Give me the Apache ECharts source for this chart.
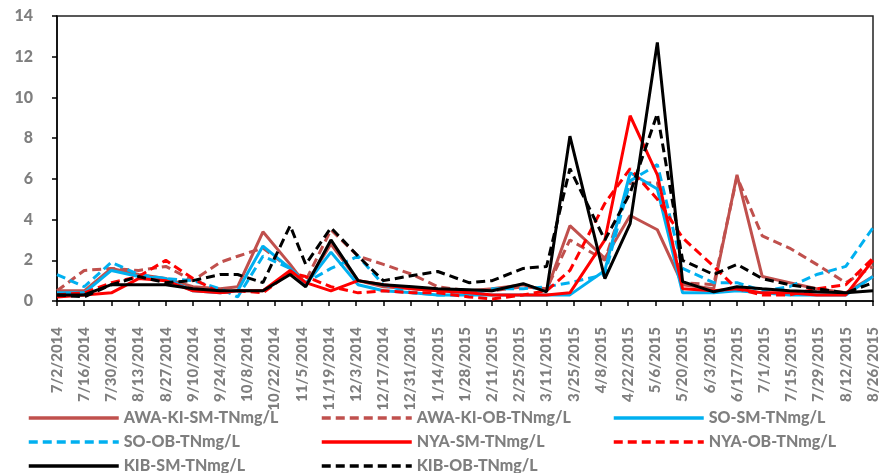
<!DOCTYPE html>
<html>
<head>
<meta charset="utf-8">
<script src="https://cdn.jsdelivr.net/npm/echarts@6/dist/echarts.min.js"></script>
<style>
  html, body { margin: 0; padding: 0; background: #fff; }
  #chart { width: 887px; height: 473px; }
</style>
</head>
<body>
<div id="chart"></div>
<script>
// Sampling dates (M/D/YYYY reading of the x axis)
const startDate = '2014-07-02';
const sampleDates = [
  '2014-07-02','2014-07-16','2014-07-30','2014-08-13','2014-08-27','2014-09-10',
  '2014-09-24','2014-10-03','2014-10-16','2014-10-30','2014-11-07','2014-11-20',
  '2014-12-04','2014-12-17','2015-01-01','2015-01-14','2015-01-30','2015-02-11',
  '2015-02-27','2015-03-11','2015-03-23','2015-04-10','2015-04-23','2015-05-07',
  '2015-05-20','2015-06-05','2015-06-17','2015-06-30','2015-07-14','2015-07-28',
  '2015-08-12','2015-08-26'
];

// Total nitrogen, mg/L
const awaKiSm = [0.5,0.5,1.6,1.3,1.1,0.7,0.6,0.7,3.4,1.8,0.8,2.8,1.0,0.7,0.6,0.5,0.5,0.6,0.8,0.5,3.7,2.1,4.2,3.5,0.8,0.6,6.2,1.2,0.9,0.6,0.4,1.2];
const awaKiOb = [0.5,1.5,1.6,1.5,1.7,1.0,1.9,2.2,2.6,1.6,1.0,3.5,2.2,1.8,1.3,0.7,0.5,0.5,0.7,0.6,3.0,2.0,5.8,5.8,0.9,0.8,6.1,3.2,2.6,1.8,0.9,1.7];
const soSm    = [0.4,0.4,1.5,1.2,1.1,0.5,0.4,0.5,2.7,1.6,0.8,2.4,0.8,0.5,0.4,0.3,0.3,0.3,0.3,0.3,0.3,1.5,6.3,5.5,0.4,0.4,0.5,0.4,0.3,0.3,0.3,1.2];
const soOb    = [1.3,0.7,1.9,1.3,1.1,1.0,0.6,0.2,2.2,1.6,0.9,1.6,2.2,0.8,0.4,0.3,0.3,0.6,0.6,0.7,0.9,1.3,5.9,6.7,1.6,0.9,0.9,0.5,0.7,1.3,1.7,3.6];
const nyaSm   = [0.2,0.3,0.4,1.1,1.0,0.5,0.4,0.5,0.5,1.5,0.9,0.5,1.0,0.8,0.6,0.5,0.4,0.3,0.3,0.3,0.4,3.0,9.1,6.2,0.6,0.5,0.6,0.4,0.4,0.3,0.3,2.0];
const nyaOb   = [0.3,0.4,0.9,1.2,2.0,1.1,0.4,0.5,0.4,1.4,1.2,0.7,0.4,0.5,0.4,0.4,0.2,0.1,0.3,0.5,1.5,4.8,6.5,5.0,3.1,1.7,0.6,0.3,0.3,0.6,0.8,2.1];
const kibSm   = [0.3,0.3,0.8,0.8,0.8,0.6,0.5,0.5,0.5,1.3,0.7,3.0,1.0,0.8,0.7,0.6,0.55,0.5,0.85,0.45,8.1,1.1,3.8,12.7,0.95,0.45,0.7,0.6,0.5,0.45,0.4,0.5];
const kibOb   = [0.3,0.2,0.8,1.2,0.9,1.0,1.3,1.3,0.9,3.7,1.8,3.6,2.2,1.0,1.25,1.45,0.9,1.0,1.6,1.7,6.5,3.0,5.3,9.2,2.0,1.3,1.8,1.1,0.8,0.6,0.4,0.9];

const seriesNames = [
  'AWA-KI-SM-TNmg/L','AWA-KI-OB-TNmg/L','SO-SM-TNmg/L','SO-OB-TNmg/L',
  'NYA-SM-TNmg/L','NYA-OB-TNmg/L','KIB-SM-TNmg/L','KIB-OB-TNmg/L'
];
const yTicks = [0, 2, 4, 6, 8, 10, 12, 14];

const DAY = 86400000;
const t0 = Date.parse(startDate + 'T00:00:00Z');
const dayOffset = s => Math.round((Date.parse(s + 'T00:00:00Z') - t0) / DAY);
const offsetLabel = d => {
  const dt = new Date(t0 + d * DAY);
  return (dt.getUTCMonth() + 1) + '/' + dt.getUTCDate() + '/' + dt.getUTCFullYear();
};
const xs = sampleDates.map(dayOffset);
const pair = vals => vals.map((v, i) => [xs[i], v]);

const styles = [
  { data: awaKiSm, color: '#C0504D', type: 'solid' },
  { data: awaKiOb, color: '#C0504D', type: 'dashed' },
  { data: soSm,    color: '#00B0F0', type: 'solid' },
  { data: soOb,    color: '#00B0F0', type: 'dashed' },
  { data: nyaSm,   color: '#FF0000', type: 'solid' },
  { data: nyaOb,   color: '#FF0000', type: 'dashed' },
  { data: kibSm,   color: '#000000', type: 'solid' },
  { data: kibOb,   color: '#000000', type: 'dashed' }
];

const series = styles.map((s, i) => ({
  name: seriesNames[i],
  type: 'line',
  data: pair(s.data),
  symbol: 'none',
  showSymbol: false,
  animation: false,
  color: s.color,
  lineStyle: {
    color: s.color,
    width: 3,
    type: s.type === 'dashed' ? [9, 5] : 'solid'
  },
  itemStyle: { color: s.color }
}));

const textFont = { color: '#7F7F7F', fontWeight: 'bold', fontFamily: 'Lato', fontSize: 15 };
function legendColumn(left, names) {
  return {
    orient: 'vertical',
    left: left,
    top: 410,
    height: 70,
    itemWidth: 90,
    itemHeight: 14,
    itemGap: 8,
    padding: 0,
    itemStyle: { opacity: 0 },
    lineStyle: { width: 3.5 },
    textStyle: { color: '#7F7F7F', fontWeight: 900, fontFamily: 'Lato', fontSize: 16 },
    selectedMode: false,
    data: names
  };
}

const chart = echarts.init(document.getElementById('chart'), null, { renderer: 'canvas' });
chart.setOption({
  backgroundColor: '#ffffff',
  animation: false,
  grid: {
    left: 57, right: 14, top: 16, bottom: 172,
    show: true, borderColor: '#222', borderWidth: 1.5, containLabel: false
  },
  legend: [
    legendColumn(27,  [seriesNames[0], seriesNames[3], seriesNames[6]]),
    legendColumn(320, [seriesNames[1], seriesNames[4], seriesNames[7]]),
    legendColumn(612, [seriesNames[2], seriesNames[5]])
  ],
  xAxis: {
    type: 'value',
    min: 0,
    max: 420,
    interval: 14,
    axisLine: { show: true, onZero: false, lineStyle: { color: '#000', width: 1.5 } },
    axisTick: { show: true, length: 5, lineStyle: { color: '#000', width: 1.5 } },
    splitLine: { show: false },
    axisLabel: Object.assign({}, textFont, {
      rotate: 90,
      margin: 26,
      fontSize: 15,
      fontWeight: 900,
      formatter: v => offsetLabel(v)
    })
  },
  yAxis: {
    type: 'value',
    min: yTicks[0],
    max: yTicks[yTicks.length - 1],
    interval: yTicks[1] - yTicks[0],
    axisLine: { show: true, lineStyle: { color: '#000', width: 1.5 } },
    axisTick: { show: true, length: 5, lineStyle: { color: '#000', width: 1.5 } },
    splitLine: { show: false },
    axisLabel: Object.assign({}, textFont, { fontSize: 16, fontWeight: 900, margin: 24 })
  },
  series: series
});
</script>
</body>
</html>
